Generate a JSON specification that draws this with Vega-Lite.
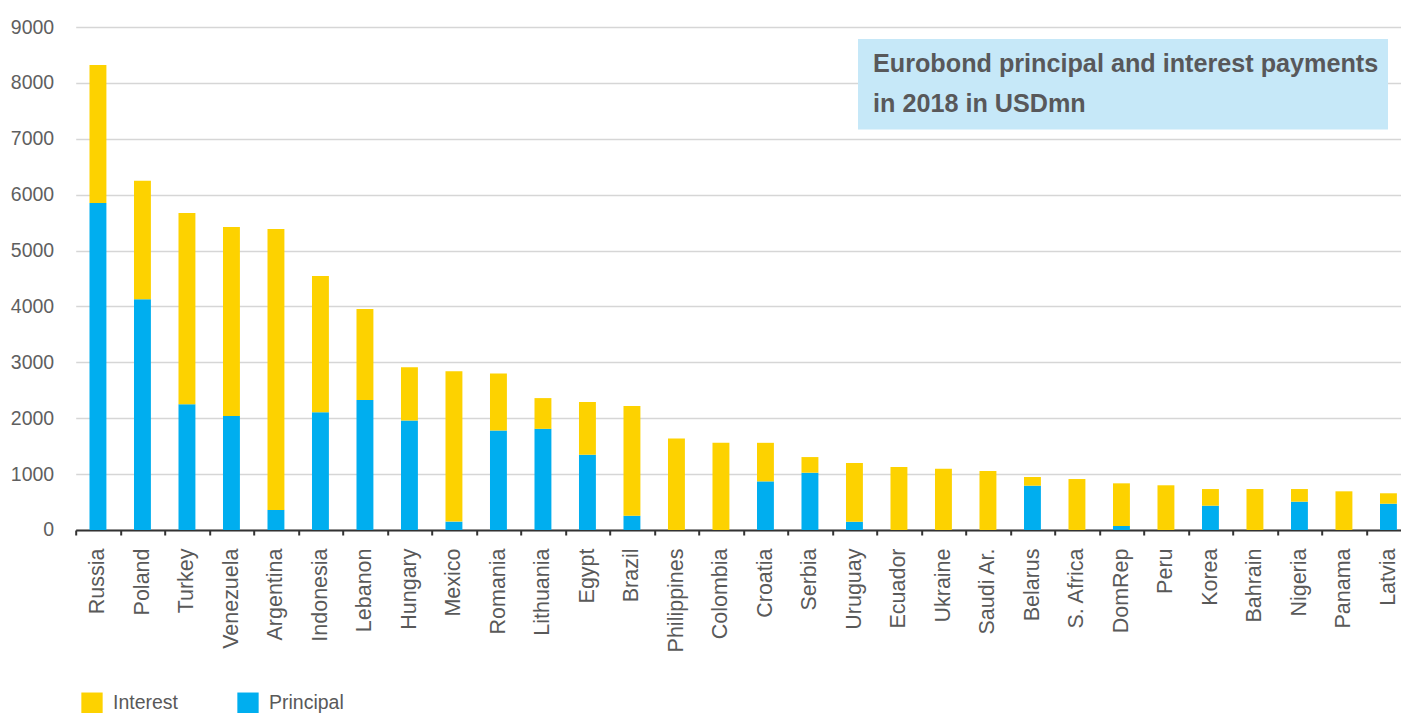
{
  "$schema": "https://vega.github.io/schema/vega-lite/v6.json",
  "width": 1335,
  "height": 503,
  "autosize": {"type": "none"},
  "padding": {"left": 75.7, "top": 27, "right": 0, "bottom": 183},
  "background": "white",
  "config": {"view": {"stroke": null}, "font": "Liberation Sans"},
  "datasets": {
    "payments": [
      {"country": "Russia", "type": "Principal", "value": 5850},
      {"country": "Russia", "type": "Interest", "value": 2470},
      {"country": "Poland", "type": "Principal", "value": 4130},
      {"country": "Poland", "type": "Interest", "value": 2120},
      {"country": "Turkey", "type": "Principal", "value": 2250},
      {"country": "Turkey", "type": "Interest", "value": 3420},
      {"country": "Venezuela", "type": "Principal", "value": 2040},
      {"country": "Venezuela", "type": "Interest", "value": 3380},
      {"country": "Argentina", "type": "Principal", "value": 360},
      {"country": "Argentina", "type": "Interest", "value": 5025},
      {"country": "Indonesia", "type": "Principal", "value": 2105},
      {"country": "Indonesia", "type": "Interest", "value": 2440},
      {"country": "Lebanon", "type": "Principal", "value": 2325},
      {"country": "Lebanon", "type": "Interest", "value": 1630},
      {"country": "Hungary", "type": "Principal", "value": 1960},
      {"country": "Hungary", "type": "Interest", "value": 950},
      {"country": "Mexico", "type": "Principal", "value": 150},
      {"country": "Mexico", "type": "Interest", "value": 2690},
      {"country": "Romania", "type": "Principal", "value": 1780},
      {"country": "Romania", "type": "Interest", "value": 1020},
      {"country": "Lithuania", "type": "Principal", "value": 1810},
      {"country": "Lithuania", "type": "Interest", "value": 550},
      {"country": "Egypt", "type": "Principal", "value": 1345},
      {"country": "Egypt", "type": "Interest", "value": 945},
      {"country": "Brazil", "type": "Principal", "value": 255},
      {"country": "Brazil", "type": "Interest", "value": 1965},
      {"country": "Philippines", "type": "Interest", "value": 1635},
      {"country": "Colombia", "type": "Interest", "value": 1560},
      {"country": "Croatia", "type": "Principal", "value": 870},
      {"country": "Croatia", "type": "Interest", "value": 690},
      {"country": "Serbia", "type": "Principal", "value": 1025},
      {"country": "Serbia", "type": "Interest", "value": 280},
      {"country": "Uruguay", "type": "Principal", "value": 148},
      {"country": "Uruguay", "type": "Interest", "value": 1052},
      {"country": "Ecuador", "type": "Interest", "value": 1125},
      {"country": "Ukraine", "type": "Interest", "value": 1095},
      {"country": "Saudi Ar.", "type": "Interest", "value": 1055},
      {"country": "Belarus", "type": "Principal", "value": 793},
      {"country": "Belarus", "type": "Interest", "value": 155},
      {"country": "S. Africa", "type": "Interest", "value": 912},
      {"country": "DomRep", "type": "Principal", "value": 72},
      {"country": "DomRep", "type": "Interest", "value": 763},
      {"country": "Peru", "type": "Interest", "value": 800},
      {"country": "Korea", "type": "Principal", "value": 435},
      {"country": "Korea", "type": "Interest", "value": 298},
      {"country": "Bahrain", "type": "Interest", "value": 733},
      {"country": "Nigeria", "type": "Principal", "value": 507},
      {"country": "Nigeria", "type": "Interest", "value": 226},
      {"country": "Panama", "type": "Interest", "value": 692},
      {"country": "Latvia", "type": "Principal", "value": 470},
      {"country": "Latvia", "type": "Interest", "value": 187}
    ]
  },
  "layer": [
    {
      "data": {"name": "payments"},
      "mark": {"type": "bar", "width": {"band": 0.38}},
      "encoding": {
        "x": {
          "field": "country",
          "type": "nominal",
          "sort": null,
          "scale": {
            "domain": ["Russia", "Poland", "Turkey", "Venezuela", "Argentina", "Indonesia", "Lebanon", "Hungary", "Mexico", "Romania", "Lithuania", "Egypt", "Brazil", "Philippines", "Colombia", "Croatia", "Serbia", "Uruguay", "Ecuador", "Ukraine", "Saudi Ar.", "Belarus", "S. Africa", "DomRep", "Peru", "Korea", "Bahrain", "Nigeria", "Panama", "Latvia"],
            "paddingInner": 0,
            "paddingOuter": 0
          },
          "axis": {
            "title": null,
            "orient": "bottom",
            "tickBand": "extent",
            "labelAngle": -90,
            "labelFontSize": 21.5,
            "labelColor": "#595959",
            "labelPadding": 13,
            "labelLimit": 300,
            "domainColor": "#333333",
            "domainWidth": 2,
            "tickColor": "#333333",
            "tickWidth": 2,
            "tickSize": 5,
            "grid": false
          }
        },
        "y": {
          "field": "value",
          "type": "quantitative",
          "stack": "zero",
          "scale": {"domain": [0, 9000], "nice": false},
          "axis": {
            "title": null,
            "values": [0, 1000, 2000, 3000, 4000, 5000, 6000, 7000, 8000, 9000],
            "format": "d",
            "grid": true,
            "gridColor": "#d6d6d6",
            "gridWidth": 1.6,
            "domain": false,
            "ticks": false,
            "labelFontSize": 19.5,
            "labelColor": "#5f5f5f",
            "labelPadding": 22
          }
        },
        "color": {
          "field": "type",
          "type": "nominal",
          "scale": {"domain": ["Interest", "Principal"], "range": ["#FDD200", "#00AEEF"]},
          "legend": {
            "title": null,
            "orient": "none",
            "legendX": 5.3,
            "legendY": 665,
            "direction": "horizontal",
            "symbolType": "square",
            "symbolSize": 454,
            "symbolStrokeWidth": 0,
            "symbolOpacity": 1,
            "labelFontSize": 19.5,
            "labelColor": "#595959",
            "labelOffset": 10,
            "columnPadding": 58,
            "padding": 0
          }
        },
        "order": {"field": "type", "sort": "descending"}
      }
    },
    {
      "data": {"values": [{}]},
      "mark": {"type": "rect", "color": "#C6E8F8"},
      "encoding": {
        "x": {"datum": "Uruguay", "type": "nominal", "bandPosition": 0.58},
        "x2": {"datum": "Latvia", "bandPosition": 0.49},
        "y": {"datum": 8785, "type": "quantitative"},
        "y2": {"datum": 7166}
      }
    },
    {
      "data": {"values": [{}]},
      "mark": {
        "type": "text",
        "text": ["Eurobond principal and interest payments", "in 2018 in USDmn"],
        "align": "left",
        "baseline": "alphabetic",
        "fontSize": 25.2,
        "fontWeight": "bold",
        "lineHeight": 40,
        "color": "#58585A"
      },
      "encoding": {
        "x": {"datum": "Uruguay", "type": "nominal", "bandPosition": 0.917},
        "y": {"datum": 8195, "type": "quantitative"}
      }
    }
  ]
}
